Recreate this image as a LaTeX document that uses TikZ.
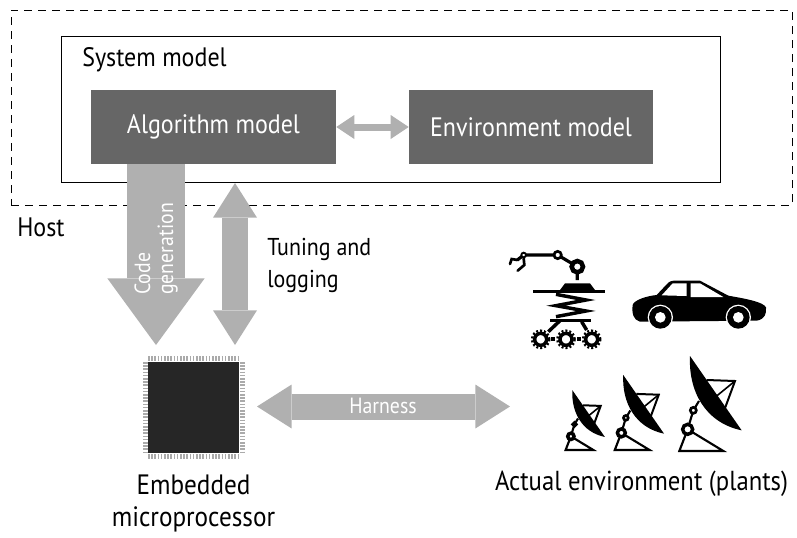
\documentclass[tikz,border=0pt]{standalone}
\usepackage{fontspec}
\setmainfont[FakeStretch=0.9]{PT Sans}
\usepackage{tikz}
\usetikzlibrary{arrows.meta}
\tikzstyle{hostbox}=[draw=black, line width=0.75pt, dash pattern=on 6pt off 4.5pt, minimum width=585.75pt, minimum height=146.25pt, inner sep=0pt]
\tikzstyle{systembox}=[draw=black, fill=white, line width=0.75pt, minimum width=494.25pt, minimum height=109.5pt, inner sep=0pt]
\tikzstyle{modelbox}=[fill=darkbox, text=white, minimum height=55.5pt, inner sep=0pt, font=\fontsize{20pt}{24pt}\selectfont]
\tikzstyle{label}=[font=\fontsize{20pt}{24pt}\selectfont, inner sep=0pt, align=left]
\tikzstyle{smalllabel}=[text=white, font=\fontsize{16.5pt}{17.25pt}\selectfont, inner sep=0pt, align=left]
\tikzstyle{chip}=[fill=chipblack, minimum size=68.25pt, inner sep=0pt]
\tikzstyle{bigarrow}=[draw=arrowgray, line width=43.5pt, -{Triangle[length=50pt, width=73pt, line width=0pt]}]
\tikzstyle{tunearrow}=[draw=arrowgray, line width=19.5pt, {Triangle[length=26pt, width=33pt, line width=0pt]}-{Triangle[length=26pt, width=33pt, line width=0pt]}]
\tikzstyle{linkarrow}=[draw=arrowgray, line width=5.25pt, {Triangle[length=13.5pt, width=18pt, line width=0pt]}-{Triangle[length=13.5pt, width=18pt, line width=0pt]}]
\tikzstyle{pins}=[draw=pingray, line width=3.75pt, dash pattern=on 1.2pt off 1.2pt]
\definecolor{darkbox}{HTML}{666666}
\definecolor{arrowgray}{HTML}{B0B0B0}
\definecolor{chipblack}{HTML}{262626}
\definecolor{pingray}{HTML}{AAAAAA}
\newcommand{\gearicon}[1]{
	\draw [line width=2.6pt] (#1) circle [radius=18];
	\draw [line width=1.8pt, dash pattern=on 1.5pt off 1.5pt] (#1) circle [radius=26];
}
\tikzset{
	dish/.pic={
		\fill (35,-285) .. controls (30,-180) and (80,-85) .. (190,-62) -- cycle;
		\draw [line width=1.5pt] (85,-213) -- (170,-210) -- (135,-115);
		\draw [line width=1.2pt] (170,-210) -- (115,-165);
		\draw [line width=1.6pt] (28,-65) -- (45,-122) -- (62,-150);
		\draw [line width=1.6pt] (3,0) -- (28,-65) -- (135,0) -- cycle;
		\draw [fill=white, line width=2.6pt] (28,-65) circle [radius=15];
		\draw [fill=white, line width=2pt] (45,-122) circle [radius=9];
	}
}
\begin{document}
\begin{tikzpicture}[x=0.75pt, y=-0.75pt]
	\useasboundingbox (0,0) rectangle (797,537);
	\begin{scope}
		\node (host) at (401.5,107.5)[hostbox] {};
		\node (system) at (390.5,109)[systembox] {};
		\node (algorithm) at (213.5,127)[modelbox, minimum width=183.75pt] {Algorithm model};
		\node (environment) at (531,127)[modelbox, minimum width=183pt] {Environment model};
		\node (chip) at (193.5,407.5)[chip] {};
	\end{scope}
	\begin{scope}
		\coordinate (codestart) at (156,164);
		\coordinate (codeend) at (156,345);
		\coordinate (tunetop) at (235,183);
		\coordinate (tunebottom) at (235,345);
		\coordinate (harnessleft) at (257,406.5);
		\coordinate (harnessright) at (510,406.5);
		\draw [bigarrow] (codestart) -- (codeend);
		\draw [tunearrow] (tunetop) -- (tunebottom);
		\draw [tunearrow] (harnessleft) -- (harnessright);
		\draw [linkarrow] (algorithm) -- (environment);
	\end{scope}
	% chip pins
	\draw [pins] (148,358.5) -- (239,358.5);
	\draw [pins] (148,456) -- (239,456);
	\draw [pins] (145,362) -- (145,453);
	\draw [pins] (242,362) -- (242,453);
	% texts
	\node (systemlabel) at (82,60)[label, anchor=west] {System model};
	\node (hostlabel) at (17,227)[label, anchor=west] {Host};
	\node (tuninglabel) at (267,265.5)[label, anchor=west, font=\fontsize{18.3pt}{24pt}\selectfont] {Tuning and\\logging};
	\node (harnesslabel) at (383,406)[smalllabel] {Harness};
	\node (codelabel) at (156,295)[smalllabel, rotate=90, anchor=west] {Code\\generation};
	\node (chiplabel) at (193.5,503)[label, align=center, font=\fontsize{21pt}{24pt}\selectfont] {Embedded\\microprocessor};
	\node (plantslabel) at (641.5,484)[label, font=\fontsize{20.6pt}{24pt}\selectfont] {Actual environment (plants)};
	% robot
	\begin{scope}[shift={(480,230)}, scale=1/3]
		\draw [line width=2.4pt] (292,150) -- (292,110) -- (233,75) -- (131,75) -- (112,90);
		\draw [line width=2pt, line cap=round] (112,90) -- (95,87) -- (90,102);
		\draw [line width=2pt, line cap=round] (131,85) -- (133,105) -- (113,122);
		\fill (240,180) -- (255,160) -- (330,160) -- (345,180) -- cycle;
		\draw [line width=2.5pt] (160,184) -- (375,184);
		\draw [fill=white, line width=3.4pt] (292,110) circle [radius=17];
		\draw [fill=white, line width=2pt] (233,75) circle [radius=11];
		\draw [fill=white, line width=1.4pt] (131,75) circle [radius=7];
		\draw [line width=2.6pt] (228,193) -- (318,210) -- (228,227) -- (318,243) -- (228,260);
		\draw [line width=2.5pt] (210,272) -- (332,272);
		\draw [line width=2.6pt] (240,272) -- (205,305);
		\draw [line width=2.6pt] (305,275) -- (320,300);
		\fill (213,322) rectangle (225,334);
		\fill (290,322) rectangle (302,334);
		\gearicon{182,328}
		\gearicon{258,328}
		\gearicon{335,328}
	\end{scope}
	% car
	\begin{scope}[shift={(480,230)}, scale=1/3]
		\fill (458,225) .. controls (462,210) and (500,198) .. (530,195) -- (560,163) .. controls (570,152) and (575,152) .. (590,152) -- (660,152) -- (745,197) .. controls (790,205) and (850,215) .. (858,232) .. controls (860,250) and (855,268) .. (830,272) -- (480,275) .. controls (460,270) and (455,250) .. (458,225) -- cycle;
		\fill [white] (545,196) -- (578,160) -- (620,160) -- (620,198) -- cycle;
		\fill [white] (632,160) -- (660,160) -- (730,201) -- (632,201) -- cycle;
		\fill [white] (541,262) circle [radius=38];
		\fill [white] (775,262) circle [radius=38];
		\fill (541,262) circle [radius=34];
		\fill (775,262) circle [radius=34];
		\fill [white] (541,262) circle [radius=16];
		\fill [white] (775,262) circle [radius=16];
	\end{scope}
	% dishes
	\begin{scope}[shift={(510,350)}, scale=1/3]
		\pic [scale=0.63, transform shape] at (165,300) {dish};
		\pic [scale=0.79, transform shape] at (312,300) {dish};
		\pic [transform shape] at (505,303) {dish};
	\end{scope}
\end{tikzpicture}
\end{document}
